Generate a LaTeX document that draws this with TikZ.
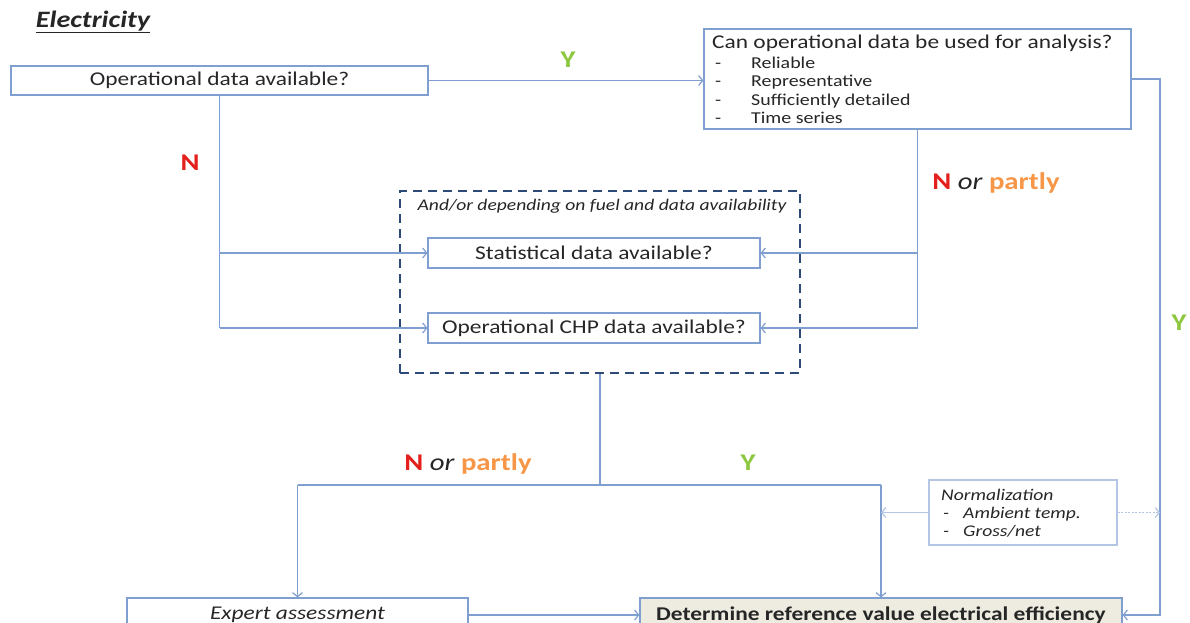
\documentclass[tikz,border=0pt]{standalone}
\usepackage{fontspec}
\setmainfont{Carlito}[FakeStretch=1.2]
\usetikzlibrary{arrows.meta}
\definecolor{ln}{HTML}{7F9FD0}
\definecolor{lnl}{HTML}{B4C6E4}
\definecolor{dk}{HTML}{2E4A78}
\definecolor{rd}{HTML}{E3201B}
\definecolor{og}{HTML}{F79646}
\definecolor{gn}{HTML}{8DC63F}
\definecolor{tx}{HTML}{262626}
\definecolor{bgc}{HTML}{EEECE1}
\begin{document}
\begin{tikzpicture}[x=1pt,y=-1pt,
  box/.style={draw=ln, line width=1.2pt, inner sep=0pt, text=tx},
  conn/.style={draw=ln, line width=1.2pt},
  arr/.style={conn, -{Straight Barb[length=4pt,width=10pt]}},
  lbl/.style={font=\fontsize{24}{26}\selectfont\bfseries},
  txt/.style={text=tx, inner sep=0pt, anchor=west, text height=1.5ex, text depth=.25ex},
  big/.style={font=\fontsize{19.5}{22}\selectfont},
  item/.style={txt, font=\fontsize{16.6}{18}\selectfont},
  nitem/.style={txt, font=\fontsize{16.3}{18}\selectfont\itshape}]
\useasboundingbox (0,0) rectangle (1190,623);
\clip (0,0) rectangle (1190,623);

\node[text=tx, inner sep=0pt, font=\fontsize{23.5}{26}\selectfont\bfseries\itshape] (el) at (93,22) {\underline{Electricity}};

% boxes
\node[box, big, minimum width=417pt, minimum height=29pt] (A) at (219.5,80.5) {Operational data available?};
\node[box, minimum width=427pt, minimum height=100pt] (B) at (917.5,79) {};
\node[txt, big] (Bt) at (712,46) {Can operational data be used for analysis?};
\foreach \i/\t/\yy in {1/Reliable/66,2/Representative/84,3/Sufficiently detailed/103,4/Time series/121}{
  \node[item] (d\i) at (715,\yy) {-};
  \node[item] (i\i) at (751,\yy) {\t};
}

\node[draw=dk, line width=2.4pt, dash pattern=on 9pt off 6pt, minimum width=400pt, minimum height=182pt, inner sep=0pt] (D) at (600,282) {};
\node[text=tx, inner sep=0pt, font=\fontsize{16.3}{18}\selectfont\itshape] (Dl) at (602,206) {And/or depending on fuel and data availability};

\node[box, big, minimum width=332pt, minimum height=30pt] (S) at (594,253) {Statistical data available?};
\node[box, big, minimum width=332pt, minimum height=30pt] (C) at (594,328) {Operational CHP data available?};

\node[box, draw=lnl, minimum width=188pt, minimum height=65pt] (N) at (1023,512.5) {};
\node[nitem] (n0) at (941,498) {Normalization};
\node[nitem] (n1) at (943,516) {-};
\node[nitem] (n2) at (963,516) {Ambient temp.};
\node[nitem] (n3) at (943,534) {-};
\node[nitem] (n4) at (963,534) {Gross/net};

\node[box, font=\fontsize{19.5}{22}\selectfont\itshape, minimum width=341pt, minimum height=34pt] (E) at (297.5,615) {Expert assessment};
\node[box, font=\fontsize{19.5}{22}\selectfont\bfseries, fill=bgc, minimum width=482pt, minimum height=34pt] (T) at (881,615) {Determine reference value electrical efficiency};

% coordinates
\coordinate (r) at (1160,0);
\coordinate (sp) at (600,485);

% connectors
\draw[arr] (A.east) -- (B.west |- A.east);
\draw[conn] (A.south) -- (A.south |- C.west);
\draw[arr] (A.south |- S.west) -- (S.west);
\draw[arr] (A.south |- C.west) -- (C.west);

\draw[conn] (B.south) -- (B.south |- C.east);
\draw[arr] (B.south |- S.east) -- (S.east);
\draw[arr] (B.south |- C.east) -- (C.east);

\draw[arr] (B.east) -- (r |- B.east) -- (r |- E.east) -- (T.east |- E.east);

\draw[conn] (D.south) -- (sp);
\draw[conn] (E.north |- sp) -- (T.north |- sp);
\draw[arr] (E.north |- sp) -- (E.north);
\draw[arr] (T.north |- sp) -- (T.north);
\draw[arr] (E.east) -- (T.west);

\draw[arr, draw=lnl] (N.west) -- (T.north |- N.west);
\draw[arr, draw=lnl, dash pattern=on 2pt off 1.5pt] (N.east) -- (r |- N.east);

% labels
\node[lbl, text=gn] (y1) at (568,60) {Y};
\node[lbl, text=rd] (n1l) at (190,163) {N};
\node[lbl] (np1) at (996,183) {\textcolor{rd}{N} \textcolor{tx}{\mdseries\itshape or} \textcolor{og}{partly}};
\node[lbl] (np2) at (468,464) {\textcolor{rd}{N} \textcolor{tx}{\mdseries\itshape or} \textcolor{og}{partly}};
\node[lbl, text=gn] (y2) at (748,463) {Y};
\node[lbl, text=gn] (y3) at (1179,323) {Y};
\end{tikzpicture}
\end{document}
